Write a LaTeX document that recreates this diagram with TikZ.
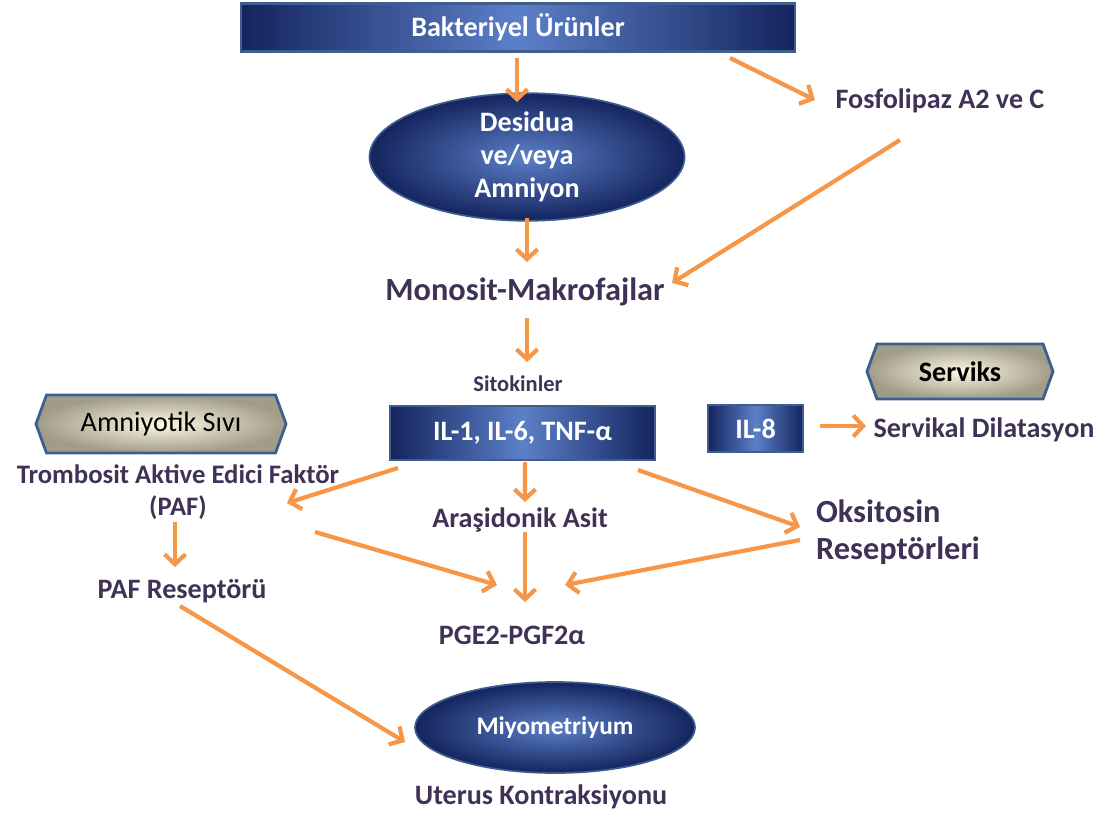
\documentclass[tikz,border=0pt]{standalone}
\usepackage{fontspec}
\setmainfont{Carlito}
\usepackage{xcolor}
\usepackage{tikz}
\usetikzlibrary{arrows.meta,calc,shapes.geometric,shapes.symbols}
\definecolor{LaciKoyu}{RGB}{20,36,94}
\definecolor{LaciAcik}{RGB}{92,128,200}
\definecolor{LaciKenar}{RGB}{62,94,142}
\definecolor{BejIc}{RGB}{252,248,226}
\definecolor{BejDis}{RGB}{160,156,136}
\definecolor{TuruncuOk}{RGB}{247,150,70}
\definecolor{MorYazi}{RGB}{64,50,86}

\begin{document}
\begin{tikzpicture}[x=0.025cm,y=-0.025cm,
  >={Straight Barb[length=7pt,width=15pt]},
  ok/.style={->,line width=3pt,TuruncuOk},
  kutu/.style={rectangle,draw=LaciKenar,line width=1.6pt,left color=LaciKoyu,
    right color=LaciKoyu,middle color=LaciAcik,text=white,
    font=\bfseries\fontsize{20}{24}\selectfont},
  elips/.style={ellipse,draw=LaciKenar,line width=1.2pt,inner color=LaciAcik,
    outer color=LaciKoyu,text=white,align=center,inner sep=0pt},
  altigen/.style={signal,signal to=west and east,signal pointer angle=140,
    draw=LaciKenar,line width=2pt,inner color=BejIc,outer color=BejDis,
    text=black,font=\fontsize{20}{24}\selectfont},
  etiket/.style={text=MorYazi,inner sep=0pt,align=center,
    font=\bfseries\fontsize{20}{24}\selectfont}]
  \useasboundingbox (0,0) rectangle (1110,816);

  \node[kutu,minimum width=13.85cm,minimum height=1.2cm] (bakt) at (518,27.5)
       {Bakteriyel Ürünler};
  \node[elips,minimum width=7.875cm,minimum height=2.675cm,
        font=\bfseries\fontsize{20}{23.5}\selectfont] (desidua) at (527,157)
       {Desidua\\ve/veya\\Amniyon};
  \node[etiket] (fosfo) at (940,101) {Fosfolipaz A2 ve C};
  \node[etiket,font=\bfseries\fontsize{23}{27}\selectfont] (mono) at (525,292)
       {Monosit-Makrofajlar};
  \node[etiket,font=\bfseries\fontsize{16}{20}\selectfont] (sito) at (518,384)
       {Sitokinler};
  \node[kutu,minimum width=6.625cm,minimum height=1.35cm] (il) at (522.5,433)
       {IL-1, IL-6, TNF-α};
  \node[kutu,minimum width=2.375cm,minimum height=1.175cm] (il8) at (755.5,428.5)
       {IL-8};
  \node[altigen,font=\bfseries\fontsize{20}{24}\selectfont,
        minimum width=4.65cm,minimum height=1.375cm] (serviks) at (960,371.5)
       {Serviks};
  \node[etiket] (servdil) at (984,430) {Servikal Dilatasyon};
  \node[altigen,minimum width=6.25cm,minimum height=1.45cm] (amnio) at (161,424)
       {Amniyotik Sıvı};
  \node[etiket,font=\bfseries\fontsize{19}{22.8}\selectfont] (tromb) at (178,492)
       {Trombosit Aktive Edici Faktör\\(PAF)};
  \node[etiket] (aras) at (520,520) {Araşidonik Asit};
  \node[etiket,align=left,font=\bfseries\fontsize{23}{26.3}\selectfont]
       (oksi) at (898,532) {Oksitosin\\Reseptörleri};
  \node[etiket] (pafrec) at (182,591) {PAF Reseptörü};
  \node[etiket] (pge) at (512,635) {PGE2-PGF2α};
  \node[elips,minimum width=7cm,minimum height=2.275cm,
        font=\bfseries\fontsize{18}{22}\selectfont] (miyo) at (555,727.5)
       {Miyometriyum};
  \node[etiket] (uterus) at (541,797) {Uterus Kontraksiyonu};

  \draw[ok] ($(bakt)+(-1,30.5)$) -- ($(desidua)+(-10,-55)$);
  \draw[ok] ($(bakt)+(212,30.5)$) -- ($(fosfo)+(-125,-1)$);
  \draw[ok] ($(fosfo)+(-40,39)$) -- ($(mono)+(147,-9)$);
  \draw[ok] ($(desidua)+(0,61)$) -- ($(mono)+(2,-30)$);
  \draw[ok] ($(mono)+(2,26)$) -- ($(sito)+(9,-22)$);
  \draw[ok] ($(il)+(-124.5,35)$) -- ($(tromb)+(109,11)$);
  \draw[ok] ($(il)+(2.5,29)$) -- ($(aras)+(5,-18)$);
  \draw[ok] ($(il)+(115.5,37)$) -- ($(oksi)+(-98,-5)$);
  \draw[ok] ($(il8)+(64.5,-2.5)$) -- ($(servdil)+(-118,-4)$);
  \draw[ok] ($(tromb)+(-3,30)$) -- ($(pafrec)+(-7,-24)$);
  \draw[ok] ($(tromb)+(137,40)$) -- ($(pge)+(-15,-50)$);
  \draw[ok] ($(aras)+(5,12)$) -- ($(pge)+(13,-33)$);
  \draw[ok] ($(oksi)+(-98,8)$) -- ($(pge)+(53,-50)$);
  \draw[ok] ($(pafrec)+(-2,15)$) -- ($(miyo)+(-150,14.5)$);
\end{tikzpicture}
\end{document}
